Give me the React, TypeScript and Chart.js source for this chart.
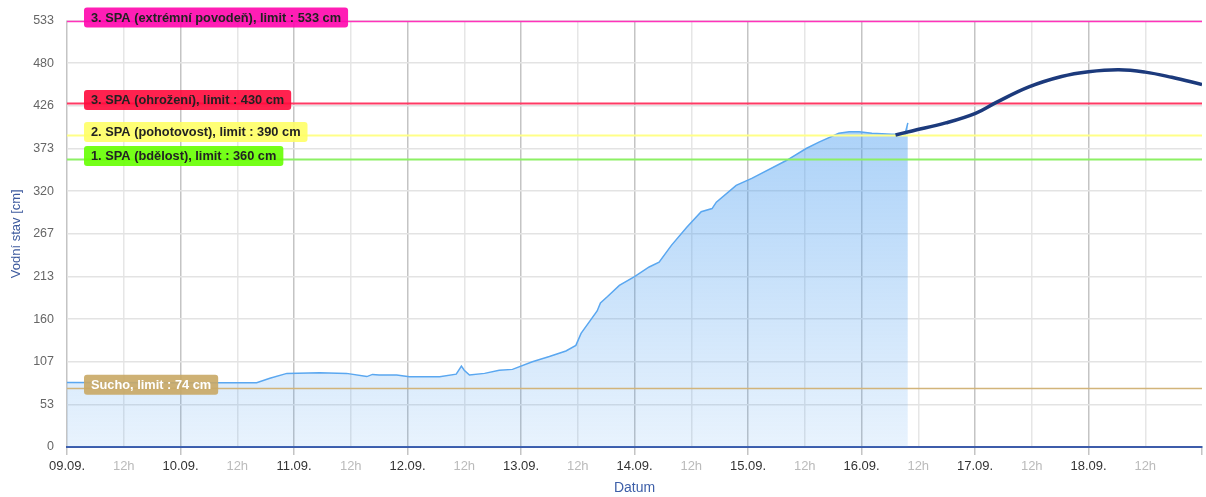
import React, { useEffect, useRef } from 'react';
import { Chart, registerables } from 'chart.js';

Chart.register(...registerables);

// Hours since 09.09. 00:00 and measured water level [cm]
const measuredHours = [0, 22.8, 40.1, 42.9, 46.5, 53.4, 59.1, 63.4, 64.6, 66.0, 69.7, 72.4, 78.8, 82.3, 83.4, 84.0, 85.1, 88.3, 91.4, 94.2, 98.4, 102.0, 105.5, 107.6, 108.7, 110.4, 112.1, 112.8, 114.3, 116.8, 120.0, 123.1, 125.2, 127.8, 131.1, 134.1, 136.4, 137.3, 141.5, 144.9, 152.1, 156.3, 159.0, 163.2, 165.4, 167.5, 170.2, 174.4, 177.2, 177.8];
const measuredLevels = [80.5, 80.3, 80.3, 86, 92, 92.8, 92, 88, 90.7, 90, 90, 87.8, 87.8, 91, 101, 96, 90, 92, 96, 97, 106.5, 113, 120, 127, 142, 156, 170, 180, 188, 202, 213, 225, 231, 252, 275, 294, 298, 306, 327, 336, 358, 373, 381, 392, 394, 394, 392, 391, 391, 405];

// Forecast
const forecastHours = [175.2, 178.7, 185.8, 192.1, 196.3, 203.4, 210.3, 216.0, 222.4, 228.0, 233.6, 240];
const forecastLevels = [390, 395, 405, 417, 430, 450, 463, 469, 471.5, 468.5, 462, 453];

// Axis ticks
const xTickHours = [0, 12, 24, 36, 48, 60, 72, 84, 96, 108, 120, 132, 144, 156, 168, 180, 192, 204, 216, 228, 240];
const xTickLabels = ['09.09.', '12h', '10.09.', '12h', '11.09.', '12h', '12.09.', '12h', '13.09.', '12h', '14.09.', '12h', '15.09.', '12h', '16.09.', '12h', '17.09.', '12h', '18.09.', '12h', ''];
const yTickValues = [0, 53.3, 106.6, 159.9, 213.2, 266.5, 319.8, 373.1, 426.4, 479.7, 533];
const yTickLabels = ['0', '53', '107', '160', '213', '267', '320', '373', '426', '480', '533'];

// Flood / drought limits
const limitValues = [533, 430, 390, 360, 74];
const limitLabels = [
  '3. SPA (extrémní povodeň), limit : 533 cm',
  '3. SPA (ohrožení), limit : 430 cm',
  '2. SPA (pohotovost), limit : 390 cm',
  '1. SPA (bdělost), limit : 360 cm',
  'Sucho, limit : 74 cm',
];
const limitBoxColors = ['#ff05ad', '#ff0a3c', '#ffff66', '#66ff00', '#c9a865'];
const limitLineColors = ['#ff33bb', '#ff3a64', '#ffff88', '#8cf064', '#d2b47a'];
const limitTextColors = ['#222222', '#222222', '#222222', '#222222', '#ffffff'];

const FONT = '"Liberation Sans", Arial, sans-serif';

const limitPlugin = {
  id: 'limitLines',
  afterDatasetDraw(chart: any, args: any) {
    if (args.index !== 1) return;
    const { ctx, chartArea } = chart;
    const ys = chart.scales.y;
    ctx.save();
    limitValues.forEach((v, i) => {
      const py = Math.round(ys.getPixelForValue(v)) + 0.5;
      ctx.strokeStyle = limitLineColors[i];
      ctx.lineWidth = i === 0 || i === 4 ? 1.5 : 2;
      ctx.beginPath();
      ctx.moveTo(chartArea.left, py);
      ctx.lineTo(chartArea.right, py);
      ctx.stroke();
    });
    ctx.restore();
  },
  afterDraw(chart: any) {
    const { ctx, chartArea } = chart;
    const ys = chart.scales.y;
    ctx.save();
    ctx.font = `bold 12.8px ${FONT}`;
    ctx.textBaseline = 'middle';
    ctx.textAlign = 'left';
    limitValues.forEach((v, i) => {
      const cy = ys.getPixelForValue(v) - 3;
      const w = ctx.measureText(limitLabels[i]).width + 14;
      const h = 20;
      const x0 = chartArea.left + 17;
      ctx.globalAlpha = 0.9;
      ctx.fillStyle = limitBoxColors[i];
      ctx.beginPath();
      (ctx as any).roundRect(x0, cy - h / 2, w, h, 3);
      ctx.fill();
      ctx.globalAlpha = 1;
      ctx.fillStyle = limitTextColors[i];
      ctx.fillText(limitLabels[i], x0 + 7, cy + 0.5);
    });
    ctx.restore();
  },
};

export default function App() {
  const ref = useRef<HTMLCanvasElement | null>(null);

  useEffect(() => {
    if (!ref.current) return;
    Chart.defaults.font.family = FONT;
    const chart = new Chart(ref.current, {
      type: 'line',
      data: {
        datasets: [
          {
            label: 'Předpověď',
            data: forecastHours.map((h, i) => ({ x: h, y: forecastLevels[i] })),
            borderColor: '#1c3a7c',
            borderWidth: 3.5,
            pointRadius: 0,
            fill: false,
            tension: 0.4,
          },
          {
            label: 'Vodní stav',
            data: measuredHours.map((h, i) => ({ x: h, y: measuredLevels[i] })),
            borderColor: '#5aa7f0',
            borderWidth: 1.5,
            pointRadius: 0,
            tension: 0,
            fill: 'origin',
            backgroundColor: (c: any) => {
              const area = c.chart.chartArea;
              if (!area) return 'rgba(70,155,240,0.3)';
              const g = c.chart.ctx.createLinearGradient(0, area.top, 0, area.bottom);
              g.addColorStop(0, 'rgba(70,155,240,0.56)');
              g.addColorStop(1, 'rgba(70,155,240,0.12)');
              return g;
            },
          },
        ],
      },
      options: {
        animation: false,
        responsive: false,
        devicePixelRatio: 1,
        layout: { padding: { top: 20, right: 3, left: 0, bottom: 0 } },
        plugins: { legend: { display: false }, tooltip: { enabled: false } },
        scales: {
          x: {
            type: 'linear',
            min: 0,
            max: 240,
            afterBuildTicks: (s: any) => {
              s.ticks = xTickHours.map((v) => ({ value: v }));
            },
            afterFit: (s: any) => {
              s.height = 50;
            },
            ticks: {
              autoSkip: false,
              maxRotation: 0,
              minRotation: 0,
              padding: 4,
              font: { size: 13 },
              color: (c: any) => (c.tick && c.tick.value % 24 === 0 ? '#333333' : '#bbbbbb'),
              callback: (_v: any, i: number) => xTickLabels[i],
            },
            grid: {
              color: (c: any) => {
                if (!c.tick) return '#e3e3e3';
                if (c.tick.value === 240) return 'rgba(0,0,0,0)';
                return c.tick.value % 24 === 0 ? '#c4c4c4' : '#e6e6e6';
              },
              lineWidth: 1.5,
              drawTicks: true,
              tickLength: 8,
              tickColor: (c: any) => (c.tick && c.tick.value % 24 === 0 ? '#c4c4c4' : 'rgba(0,0,0,0)'),
            },
            border: { display: true, color: '#3d5caa', width: 2 },
            title: {
              display: true,
              text: 'Datum',
              color: '#3d5fa8',
              font: { size: 14 },
              padding: { top: 0, bottom: 0 },
            },
          },
          y: {
            type: 'linear',
            min: 0,
            max: 533,
            afterBuildTicks: (s: any) => {
              s.ticks = yTickValues.map((v) => ({ value: v }));
            },
            afterFit: (s: any) => {
              s.width = 67;
            },
            ticks: {
              padding: 13,
              font: { size: 12.5 },
              color: '#666666',
              callback: (_v: any, i: number) => yTickLabels[i],
            },
            grid: { color: '#e3e3e3', lineWidth: 1.5, drawTicks: false },
            border: { display: false },
            title: {
              display: true,
              text: 'Vodní stav [cm]',
              color: '#3d5a9e',
              font: { size: 13 },
              padding: { top: 9, bottom: 0 },
            },
          },
        },
      },
      plugins: [limitPlugin],
    } as any);
    return () => chart.destroy();
  }, []);

  return (
    <div style={{ position: 'fixed', left: 0, top: 0, width: 1206, height: 497, background: '#fff' }}>
      <canvas ref={ref} width={1206} height={497} />
    </div>
  );
}
